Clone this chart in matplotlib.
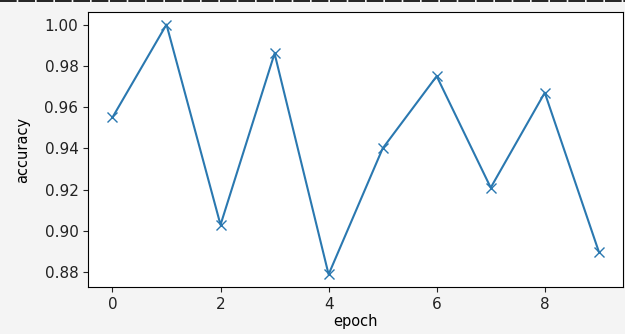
import matplotlib
matplotlib.use('Agg')
from matplotlib import pyplot as plt
from matplotlib.lines import Line2D

epochs = [0, 1, 2, 3, 4, 5, 6, 7, 8, 9]
accuracy = [0.955, 1.000, 0.903, 0.986, 0.879, 0.940, 0.975, 0.921, 0.967, 0.890]
xticks = [0, 2, 4, 6, 8]
yticks = [0.88, 0.90, 0.92, 0.94, 0.96, 0.98, 1.00]


def main():
    fig = plt.figure(figsize=(6.25, 3.34), dpi=100, facecolor='#f4f4f4')
    ax = fig.add_axes([0.141, 0.141, 0.856, 0.823])

    ax.plot(epochs, accuracy, marker='x', color='#2a78b0', linewidth=1.5,
            markersize=7)
    ax.set_xticks(xticks)
    ax.set_yticks(yticks)
    ax.set_yticklabels(['{:.2f}'.format(v) for v in yticks])
    ax.tick_params(labelsize=11, colors='#222222')
    ax.set_xlabel('epoch', fontsize=10.5, labelpad=2)
    ax.set_ylabel('accuracy', fontsize=10.5, labelpad=10)

    # dashed edge at the top of the screenshot
    fig.add_artist(Line2D([0, 1], [0.997, 0.997], transform=fig.transFigure,
                          color='black', linewidth=1.2, linestyle=(0, (10, 1))))

    fig.savefig('out.png', dpi=100, facecolor=fig.get_facecolor())


if __name__ == '__main__':
    main()
